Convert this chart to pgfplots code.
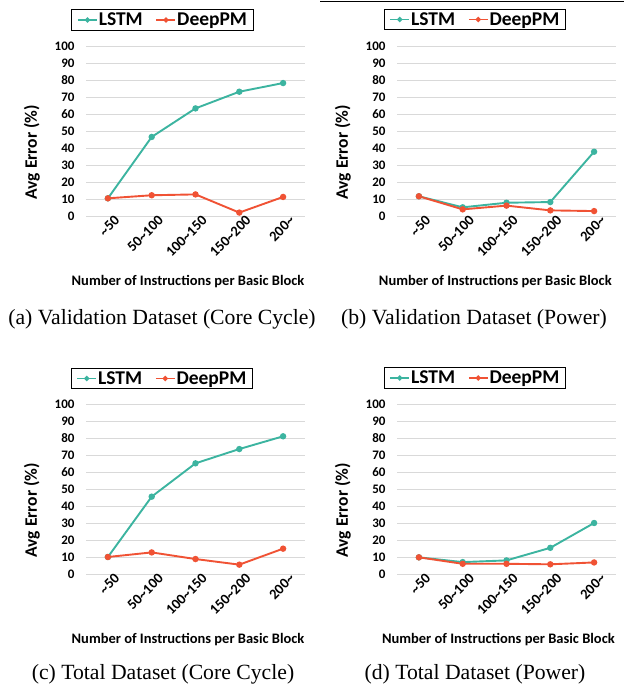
\documentclass[border=0pt]{standalone}
\usepackage{fontspec}
\usepackage{pgfplots}
\pgfplotsset{compat=1.18}
\newfontfamily\calibri{Carlito}
\newfontfamily\timesf{Liberation Serif}
\newcommand{\legfont}{\calibri\bfseries\fontsize{19.5bp}{21bp}\selectfont}
\definecolor{lstm}{RGB}{60,180,160}
\definecolor{deeppm}{RGB}{240,82,52}
\definecolor{gridgray}{RGB}{217,217,217}
\pgfplotsset{
  panel/.style={
    scale only axis, width=219bp, height=170bp,
    xmin=-0.5, xmax=4.5, ymin=0, ymax=100,
    xtick={0,1,2,3,4},
    xticklabels={\textasciitilde50,50\textasciitilde100,100\textasciitilde150,150\textasciitilde200,200\textasciitilde},
    ytick={0,10,...,100},
    axis line style={draw=none}, tick style={draw=none},
    ymajorgrids, grid style={color=gridgray, line width=0.9bp},
    /pgf/number format/assume math mode=true,
    yticklabel style={font=\calibri\bfseries\fontsize{13bp}{15bp}\selectfont, anchor=east, xshift=-8bp},
    xticklabel style={font=\calibri\bfseries\fontsize{14.5bp}{16bp}\selectfont, rotate=45, anchor=north east, inner sep=1bp, xshift=6bp, yshift=-2bp},
    ylabel={Avg Error (\%)},
    ylabel style={font=\calibri\bfseries\fontsize{17.5bp}{20bp}\selectfont, at={(axis description cs:-0.247,0.376)}, anchor=center, rotate=0},
    xlabel={Number of Instructions per Basic Block},
    xlabel style={font=\calibri\bfseries\fontsize{14.5bp}{16bp}\selectfont, anchor=center},
    legend columns=2,
    legend style={anchor=center, draw=black, line width=0.8bp,
      font=\legfont,
      inner xsep=5.5bp, inner ysep=1bp,
      nodes={inner xsep=1bp},
      /tikz/every even column/.append style={column sep=12bp}},
    legend image code/.code={\draw[#1, line width=1.5bp, mark size=1.8bp, mark repeat=2, mark phase=2] plot coordinates {(0bp,0bp) (9.5bp,0bp) (19bp,0bp)};},
    every axis plot/.append style={line width=1.9bp, mark=*, mark size=2.2bp},
  }
}
\begin{document}
\begin{tikzpicture}
\useasboundingbox (0,0) rectangle (632bp,689bp);
% (a)
\begin{axis}[panel, at={(86bp,473bp)}, anchor=south west,
  xlabel style={at={(axis description cs:0.466,-0.388)}},
  legend style={at={(axis description cs:0.35,1.153)}}]
\addplot[color=lstm] coordinates {(0,10.4) (1,46.5) (2,63.3) (3,73.1) (4,78.2)};
\addplot[color=deeppm] coordinates {(0,10.4) (1,12.2) (2,12.7) (3,2.0) (4,11.2)};
\legend{\legfont LSTM, \legfont DeepPM}
\end{axis}
% (b)
\begin{axis}[panel, at={(397bp,473bp)}, anchor=south west,
  xlabel style={at={(axis description cs:0.449,-0.388)}},
  legend style={at={(axis description cs:0.356,1.156)}}]
\addplot[color=lstm] coordinates {(0,11.6) (1,5.1) (2,7.8) (3,8.2) (4,37.8)};
\addplot[color=deeppm] coordinates {(0,11.6) (1,3.9) (2,6.1) (3,3.3) (4,2.9)};
\legend{\legfont LSTM, \legfont DeepPM}
\end{axis}
% (c)
\begin{axis}[panel, at={(86bp,115bp)}, anchor=south west,
  xlabel style={at={(axis description cs:0.466,-0.384)}},
  legend style={at={(axis description cs:0.347,1.15)}}]
\addplot[color=lstm] coordinates {(0,10.0) (1,45.5) (2,65.1) (3,73.5) (4,81.0)};
\addplot[color=deeppm] coordinates {(0,10.0) (1,12.7) (2,8.8) (3,5.5) (4,14.9)};
\legend{\legfont LSTM, \legfont DeepPM}
\end{axis}
% (d)
\begin{axis}[panel, at={(397bp,115bp)}, anchor=south west,
  xlabel style={at={(axis description cs:0.463,-0.384)}},
  legend style={at={(axis description cs:0.356,1.153)}}]
\addplot[color=lstm] coordinates {(0,9.8) (1,7.0) (2,8.0) (3,15.4) (4,30.0)};
\addplot[color=deeppm] coordinates {(0,9.8) (1,6.0) (2,6.0) (3,5.7) (4,6.8)};
\legend{\legfont LSTM, \legfont DeepPM}
\end{axis}
% captions
\draw[line width=0.8bp] (320bp,687.5bp) -- (624bp,687.5bp);
\node[font=\timesf\fontsize{21.7bp}{24bp}\selectfont] at (162bp,370bp) {(a) Validation Dataset (Core Cycle)};
\node[font=\timesf\fontsize{21.7bp}{24bp}\selectfont] at (474bp,370bp) {(b) Validation Dataset (Power)};
\node[font=\timesf\fontsize{21.7bp}{24bp}\selectfont] at (163bp,15bp) {(c) Total Dataset (Core Cycle)};
\node[font=\timesf\fontsize{21.7bp}{24bp}\selectfont] at (475bp,15bp) {(d) Total Dataset (Power)};
\end{tikzpicture}
\end{document}
